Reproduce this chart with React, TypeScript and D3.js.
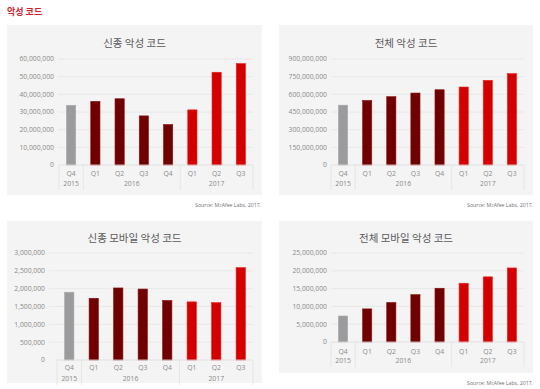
import React from 'react';
import * as d3 from 'd3';

const quarters = ['Q4', 'Q1', 'Q2', 'Q3', 'Q4', 'Q1', 'Q2', 'Q3'];
const yearGroups = [
  { year: '2015', from: 0, to: 0 },
  { year: '2016', from: 1, to: 4 },
  { year: '2017', from: 5, to: 7 },
];
const barColors = ['#9b9b9d', '#700000', '#700000', '#700000', '#700000', '#d40000', '#d40000', '#d40000'];
const barStrokes = ['#a8a8aa', '#8a1010', '#8a1010', '#8a1010', '#8a1010', '#ec2020', '#ec2020', '#ec2020'];

const newMalware = [33.8e6, 36.0e6, 37.5e6, 27.8e6, 22.9e6, 31.2e6, 52.5e6, 57.4e6];
const totalMalware = [508e6, 548e6, 580e6, 611e6, 639e6, 662e6, 719e6, 776e6];
const newMobile = [1.90e6, 1.73e6, 2.02e6, 1.99e6, 1.67e6, 1.63e6, 1.61e6, 2.59e6];
const totalMobile = [7.3e6, 9.3e6, 11.1e6, 13.3e6, 15.1e6, 16.5e6, 18.3e6, 20.8e6];

const newMalwareTicks = [0, 10e6, 20e6, 30e6, 40e6, 50e6, 60e6];
const totalMalwareTicks = [0, 150e6, 300e6, 450e6, 600e6, 750e6, 900e6];
const newMobileTicks = [0, 500e3, 1000e3, 1500e3, 2000e3, 2500e3, 3000e3];
const totalMobileTicks = [0, 5e6, 10e6, 15e6, 20e6, 25e6];

const SOURCE = 'Source: McAfee Labs, 2017.';
const KR = '"Noto Sans CJK KR", "Noto Sans", sans-serif';
const LAT = '"Open Sans", "Noto Sans", sans-serif';

interface BarPanelProps {
  title: string;
  values: number[];
  ticks: number[];
  panel: { x: number; y: number; w: number; h: number };
  plot: { left: number; right: number; top: number; bottom: number; labelX: number; titleY: number; qY: number; yearY: number };
}

const BarPanel: React.FC<BarPanelProps> = ({ title, values, ticks, panel, plot }) => {
  const x = d3.scaleBand<number>()
    .domain(d3.range(values.length))
    .range([plot.left, plot.right])
    .paddingInner(0.62)
    .paddingOuter(0.31);
  const y = d3.scaleLinear()
    .domain([0, ticks[ticks.length - 1]])
    .range([plot.bottom, plot.top]);
  const fmt = d3.format(',');
  const step = x.step();
  const start = plot.left;

  return (
    <g>
      <rect x={panel.x} y={panel.y} width={panel.w} height={panel.h} fill="#f4f4f4" />
      <text x={(panel.x + panel.x + panel.w) / 2} y={plot.titleY} textAnchor="middle"
        fontFamily={KR} fontSize={10.5} fill="#595959">{title}</text>

      {/* grid + y labels */}
      {ticks.map(t => (
        <g key={t}>
          {t > 0 && (
            <line x1={plot.labelX + 4} x2={plot.right} y1={y(t)} y2={y(t)} stroke="#e4e4e4" strokeWidth={0.8} />
          )}
          <text x={plot.labelX} y={y(t)} dy="0.35em" textAnchor="end"
            fontFamily={LAT} fontSize={6.8} fill="#8a8a8a">{fmt(t)}</text>
        </g>
      ))}

      {/* bars */}
      {values.map((v, i) => (
        <rect key={i} x={x(i)} y={y(v)} width={x.bandwidth()} height={plot.bottom - y(v)}
          fill={barColors[i]} stroke={barStrokes[i]} strokeWidth={0.6} />
      ))}

      {/* baseline + category separators */}
      <line x1={start} x2={plot.right} y1={plot.bottom} y2={plot.bottom} stroke="#dcdcdc" strokeWidth={0.8} />
      {yearGroups.map(g => (
        <line key={'l' + g.year} x1={start + g.from * step} x2={start + g.from * step}
          y1={plot.bottom} y2={plot.yearY + 4} stroke="#e2e2e2" strokeWidth={0.8} />
      ))}
      <line x1={plot.right} x2={plot.right} y1={plot.bottom} y2={plot.yearY + 4} stroke="#e2e2e2" strokeWidth={0.8} />

      {quarters.map((q, i) => (
        <text key={'q' + i} x={(x(i) as number) + x.bandwidth() / 2} y={plot.qY} textAnchor="middle"
          fontFamily={LAT} fontSize={6.8} fill="#8a8a8a">{q}</text>
      ))}
      {yearGroups.map(g => (
        <text key={'y' + g.year} x={start + ((g.from + g.to + 1) / 2) * step} y={plot.yearY} textAnchor="middle"
          fontFamily={LAT} fontSize={6.8} fill="#8a8a8a">{g.year}</text>
      ))}
    </g>
  );
};

const Source: React.FC<{ x: number; y: number }> = ({ x, y }) => (
  <text x={x} y={y} textAnchor="end" fontFamily={LAT} fontSize={5.2} fill="#6f6f6f">{SOURCE}</text>
);

export default function App() {
  return (
    <svg width={540} height={389} style={{ position: 'absolute', left: 0, top: 0, background: '#fff' }}>
      <text x={7} y={15} fontFamily={KR} fontWeight={700} fontSize={9} fill="#d11f2f">악성 코드</text>

      <BarPanel title="신종 악성 코드" values={newMalware} ticks={newMalwareTicks}
        panel={{ x: 7, y: 25, w: 255, h: 170 }}
        plot={{ left: 59, right: 253, top: 59, bottom: 165, labelX: 54, titleY: 47, qY: 176, yearY: 186 }} />
      <Source x={261} y={207} />

      <BarPanel title="전체 악성 코드" values={totalMalware} ticks={totalMalwareTicks}
        panel={{ x: 279, y: 25, w: 254, h: 170 }}
        plot={{ left: 331, right: 524, top: 59, bottom: 165, labelX: 327, titleY: 47, qY: 176, yearY: 186 }} />
      <Source x={533} y={207} />

      <BarPanel title="신종 모바일 악성 코드" values={newMobile} ticks={newMobileTicks}
        panel={{ x: 7, y: 221, w: 255, h: 162 }}
        plot={{ left: 57, right: 253, top: 253, bottom: 360, labelX: 45, titleY: 242, qY: 370, yearY: 381 }} />

      <BarPanel title="전체 모바일 악성 코드" values={totalMobile} ticks={totalMobileTicks}
        panel={{ x: 279, y: 221, w: 254, h: 152 }}
        plot={{ left: 331, right: 524, top: 253, bottom: 342, labelX: 327, titleY: 242, qY: 354, yearY: 363 }} />
      <Source x={533} y={385} />
    </svg>
  );
}
